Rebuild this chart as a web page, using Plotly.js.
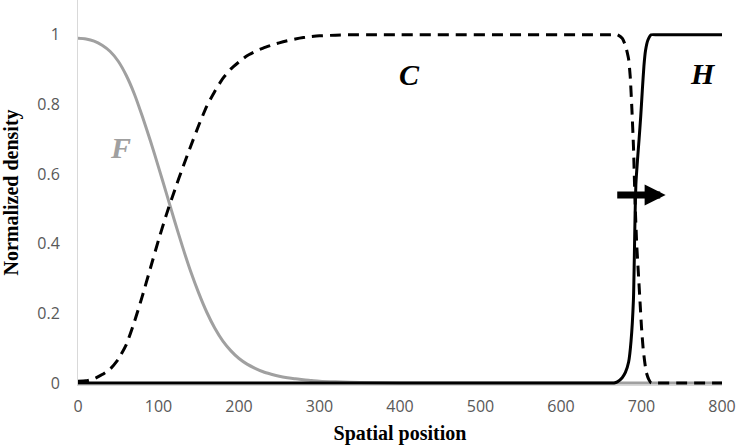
<!DOCTYPE html>
<html>
<head>
<meta charset="utf-8">
<script src="https://cdn.plot.ly/plotly-3.0.1.min.js"></script>
<style>html,body{margin:0;padding:0;background:#fff;}</style>
</head>
<body>
<div id="chart" style="width:740px;height:445px;"></div>
<script>
// F (gray solid)
var fX = [0,10,20,30,40,50,60,70,80,90,100,110,120,130,140,150,160,170,180,190,200,210,220,230,240,250,260,270,280,290,300,320,350,400,500,800];
var fY = [0.99,0.988,0.982,0.97,0.952,0.924,0.883,0.83,0.765,0.695,0.62,0.543,0.465,0.39,0.32,0.258,0.203,0.157,0.12,0.092,0.07,0.054,0.042,0.032,0.025,0.019,0.015,0.012,0.009,0.007,0.005,0.003,0.001,0,0,0];
// C (black dashed)
var cX = [0,10,20,30,40,50,60,70,80,90,100,110,120,130,140,150,160,170,180,190,200,210,220,230,240,250,260,270,280,290,300,320,340,360,650,660,670,676,680,684,686,688,690,692,694,696,698,700,702,704,706,709,712,720,800];
var cY = [0.005,0.006,0.012,0.024,0.04,0.068,0.11,0.175,0.25,0.33,0.41,0.485,0.553,0.618,0.68,0.74,0.795,0.838,0.875,0.902,0.922,0.94,0.952,0.962,0.97,0.977,0.983,0.988,0.992,0.995,0.997,0.999,1,1,1,1,1,0.99,0.97,0.93,0.88,0.79,0.68,0.52,0.4,0.32,0.24,0.16,0.1,0.06,0.03,0.01,0,0,0];
// H (black solid)
var hX = [0,650,660,666,670,676,680,684,687,690,691,692,693,695,697,699,701,703,705,708,712,720,800];
var hY = [0,0,0,0,0.003,0.015,0.03,0.06,0.12,0.24,0.35,0.48,0.57,0.64,0.7,0.765,0.84,0.91,0.955,0.985,1,1,1];

var xTicks = [0,100,200,300,400,500,600,700,800];
var yTicks = [0,0.2,0.4,0.6,0.8,1];
var yTickText = ['0','0.2','0.4','0.6','0.8','1'];

var labels = [
  {text:'F', x:53, y:0.675, color:'#A0A0A0'},
  {text:'C', x:412, y:0.887, color:'#000000'},
  {text:'H', x:776, y:0.89, color:'#000000'}
];
var arrowTail = {x:668, y:0.54};
var arrowTip = {x:730, y:0.54};

var traces = [
  {x:fX, y:fY, mode:'lines', name:'F', line:{color:'#A0A0A0', width:3, shape:'spline', smoothing:0.8}, hoverinfo:'skip'},
  {x:hX, y:hY, mode:'lines', name:'H', line:{color:'#000000', width:3, shape:'spline', smoothing:0.5}, hoverinfo:'skip'},
  {x:cX, y:cY, mode:'lines', name:'C', line:{color:'#000000', width:3, dash:'11px,7px', shape:'spline', smoothing:0.5}, hoverinfo:'skip'}
];

var annotations = labels.map(function(l){
  return {x:l.x, y:l.y, xref:'x', yref:'y', text:'<b><i>'+l.text+'</i></b>', showarrow:false,
    font:{family:'Liberation Serif, Times New Roman, serif', size:30, color:l.color}};
});
annotations.push({
  x:arrowTip.x, y:arrowTip.y, ax:arrowTail.x, ay:arrowTail.y,
  xref:'x', yref:'y', axref:'x', ayref:'y', text:'', showarrow:true,
  arrowhead:2, arrowsize:0.6, arrowwidth:7, arrowcolor:'#000000'
});

var layout = {
  width:740, height:445,
  margin:{l:78, r:18, t:0, b:60},
  paper_bgcolor:'#ffffff', plot_bgcolor:'#ffffff',
  showlegend:false,
  xaxis:{
    range:[0,800], tickvals:xTicks, showgrid:false, zeroline:false,
    showline:true, linecolor:'#D9D9D9', linewidth:1,
    ticks:'outside', ticklen:7, tickcolor:'rgba(0,0,0,0)',
    tickfont:{family:'Open Sans, sans-serif', size:16, color:'#595959'},
    title:{text:'<b>Spatial position</b>', standoff:9,
      font:{family:'Liberation Serif, Times New Roman, serif', size:20, color:'#000000'}}
  },
  yaxis:{
    range:[-0.006,1.1], tickvals:yTicks, ticktext:yTickText, showgrid:false, zeroline:false,
    showline:true, linecolor:'#D9D9D9', linewidth:1,
    ticks:'outside', ticklen:14, tickcolor:'rgba(0,0,0,0)',
    tickfont:{family:'Open Sans, sans-serif', size:16, color:'#595959'},
    title:{text:'<b>Normalized density</b>', standoff:16,
      font:{family:'Liberation Serif, Times New Roman, serif', size:20, color:'#000000'}}
  },
  annotations:annotations
};

Plotly.newPlot('chart', traces, layout, {displayModeBar:false, staticPlot:true});
</script>
</body>
</html>
